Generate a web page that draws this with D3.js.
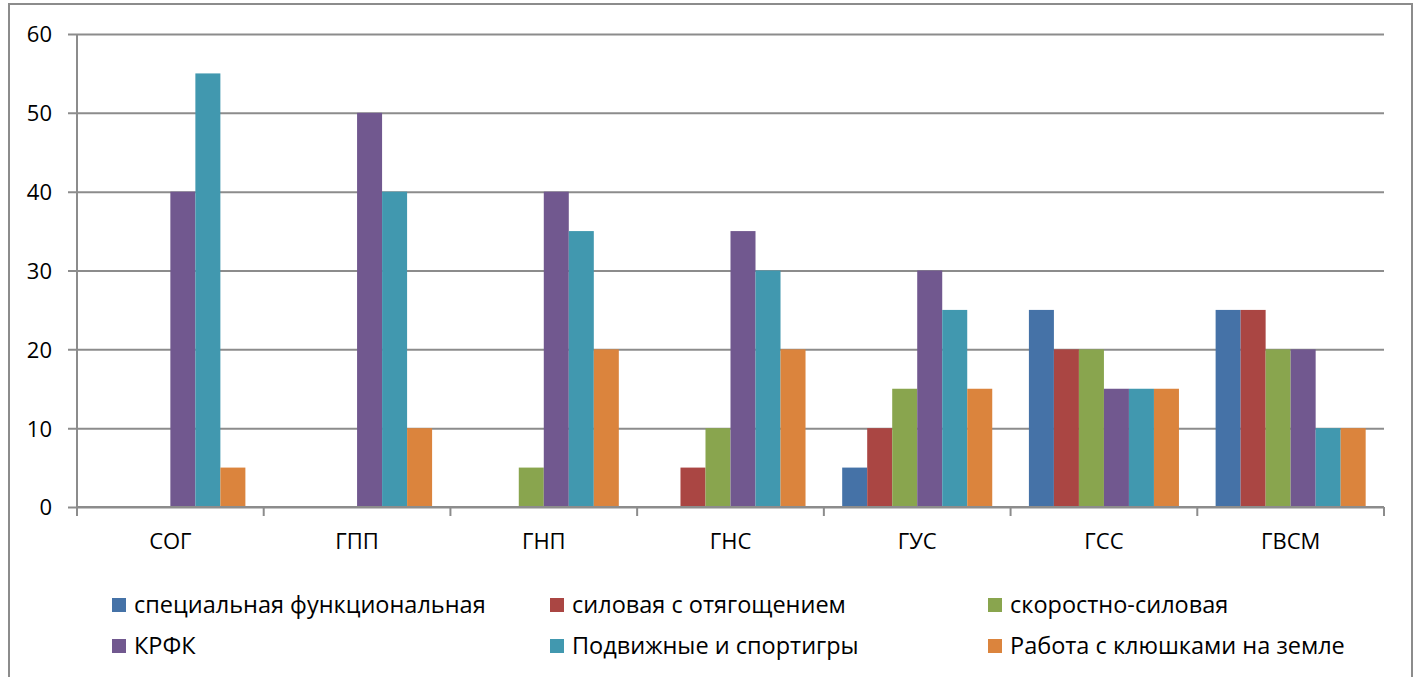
<!DOCTYPE html>
<html>
<head>
<meta charset="utf-8">
<script src="https://cdn.jsdelivr.net/npm/d3@7"></script>
<style>
  body { margin: 0; background: #fff; }
  svg text { font-family: "Open Sans", "Noto Sans", sans-serif; fill: #000; }
</style>
</head>
<body>
<div class="svg-container"></div>
<script>
// categories and series
const categories = ['СОГ', 'ГПП', 'ГНП', 'ГНС', 'ГУС', 'ГСС', 'ГВСМ'];
const seriesNames = ['специальная функциональная', 'силовая с отягощением', 'скоростно-силовая',
                     'КРФК', 'Подвижные и спортигры', 'Работа с клюшками на земле'];
const seriesColors = ['#4572A7', '#AA4643', '#89A54E', '#71588F', '#4198AF', '#DB843D'];

// values per series, one entry per category
const specFunc   = [0, 0, 0, 0, 5, 25, 25];
const silovaya   = [0, 0, 0, 5, 10, 20, 25];
const skorostn   = [0, 0, 5, 10, 15, 20, 20];
const krfk       = [40, 50, 40, 35, 30, 15, 20];
const podvizhnye = [55, 40, 35, 30, 25, 15, 10];
const klyushki   = [5, 10, 20, 20, 15, 15, 10];
const seriesValues = [specFunc, silovaya, skorostn, krfk, podvizhnye, klyushki];

const yTicks = [0, 10, 20, 30, 40, 50, 60];

const W = 1417, H = 677;
const plot = {left: 77, right: 1384, top: 34, bottom: 507};

const svg = d3.select('.svg-container')
  .append('svg')
  .attr('width', W)
  .attr('height', H);

// outer frame (bottom runs off the picture)
svg.append('rect')
  .attr('x', 9).attr('y', 4)
  .attr('width', 1403).attr('height', 700)
  .attr('fill', '#fff')
  .attr('stroke', '#8c8c8c')
  .attr('stroke-width', 2);

const yScale = d3.scaleLinear()
  .domain([0, 60])
  .range([plot.bottom, plot.top]);

const x0 = d3.scaleBand()
  .domain(categories)
  .range([plot.left, plot.right])
  .padding(0);

const x1 = d3.scaleBand()
  .domain(d3.range(seriesNames.length))
  .range([0, x0.bandwidth()])
  .paddingInner(0)
  .paddingOuter(0.733);

// gridlines + y axis
const yAxis = d3.axisLeft(yScale)
  .tickValues(yTicks)
  .tickSize(-(plot.right - plot.left + 9))
  .tickSizeOuter(0)
  .tickPadding(16)
  .tickFormat(d3.format('d'));

const yAxisDraw = svg.append('g')
  .attr('class', 'y axis')
  .attr('transform', `translate(${plot.left - 9}, 0)`)
  .call(yAxis);
yAxisDraw.select('.domain').remove();
yAxisDraw.selectAll('.tick line')
  .attr('stroke', '#8c8c8c')
  .attr('stroke-width', 2);
yAxisDraw.selectAll('.tick text')
  .attr('dy', '0.36em')
  .style('font-size', '22px');

// vertical axis line
svg.append('line')
  .attr('x1', plot.left).attr('x2', plot.left)
  .attr('y1', plot.top).attr('y2', plot.bottom + 9)
  .attr('stroke', '#8c8c8c')
  .attr('stroke-width', 2);

// bars
const rows = [];
categories.forEach((c, ci) => {
  seriesValues.forEach((vals, si) => {
    rows.push({cat: c, s: si, value: vals[ci]});
  });
});

svg.append('g')
  .attr('class', 'bars')
  .selectAll('rect')
  .data(rows.filter(d => d.value > 0))
  .enter()
  .append('rect')
  .attr('x', d => x0(d.cat) + x1(d.s))
  .attr('y', d => yScale(d.value))
  .attr('width', x1.bandwidth())
  .attr('height', d => yScale(0) - yScale(d.value))
  .attr('fill', d => seriesColors[d.s]);

// x axis
const xTickPos = d3.range(categories.length + 1).map(i => plot.left + i * x0.step());
svg.append('line')
  .attr('x1', plot.left).attr('x2', plot.right)
  .attr('y1', plot.bottom).attr('y2', plot.bottom)
  .attr('stroke', '#8c8c8c')
  .attr('stroke-width', 2);
svg.append('g')
  .selectAll('line')
  .data(xTickPos)
  .enter()
  .append('line')
  .attr('x1', d => d).attr('x2', d => d)
  .attr('y1', plot.bottom).attr('y2', plot.bottom + 9)
  .attr('stroke', '#8c8c8c')
  .attr('stroke-width', 2);

svg.append('g')
  .attr('class', 'x labels')
  .selectAll('text')
  .data(categories)
  .enter()
  .append('text')
  .attr('x', d => x0(d) + x0.bandwidth() / 2)
  .attr('y', 549)
  .attr('text-anchor', 'middle')
  .style('font-size', '22px')
  .text(d => d);

// legend
const legendCols = [112, 550, 988];
const legendRows = [612, 653];
const legend = svg.append('g')
  .attr('class', 'legend')
  .selectAll('g')
  .data(seriesNames)
  .enter()
  .append('g')
  .attr('transform', (d, i) => `translate(${legendCols[i % 3]}, ${legendRows[Math.floor(i / 3)]})`);

legend.append('rect')
  .attr('x', 0).attr('y', -14)
  .attr('width', 14).attr('height', 14)
  .attr('fill', (d, i) => seriesColors[i]);

legend.append('text')
  .attr('x', 22)
  .attr('y', 1)
  .style('font-size', '23.5px')
  .text(d => d);
</script>
</body>
</html>
